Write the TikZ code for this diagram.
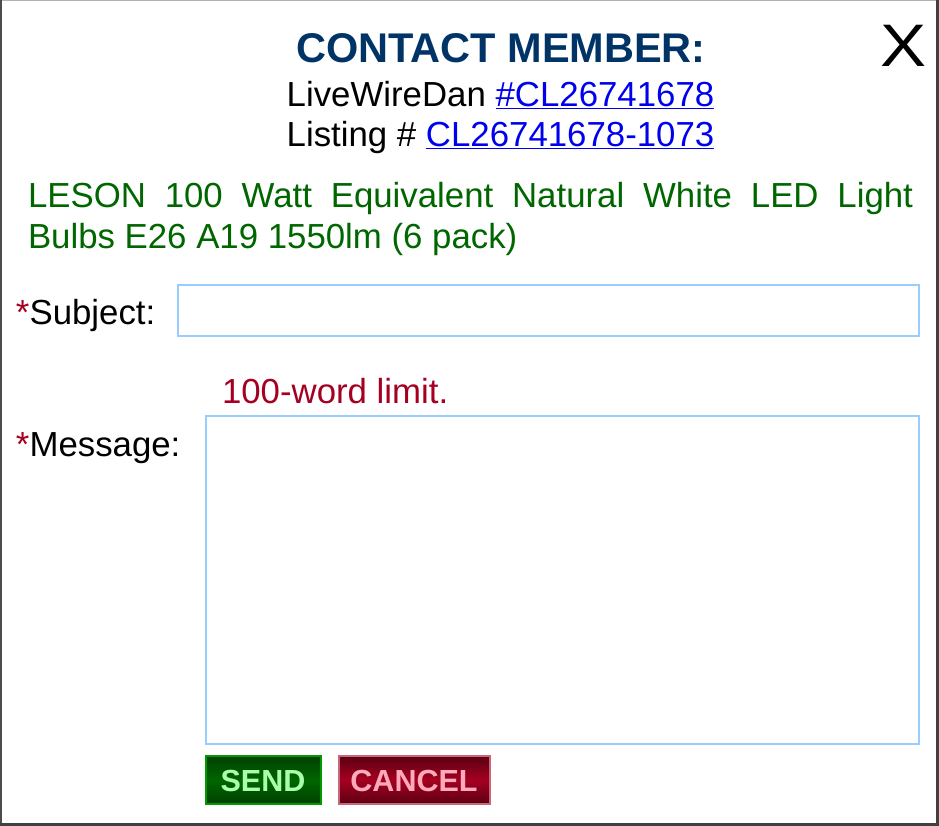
\documentclass[tikz,border=0pt]{standalone}
\usepackage{fontspec}
\setmainfont{Liberation Sans}
\definecolor{titleblue}{HTML}{003366}
\definecolor{linkblue}{HTML}{0000EE}
\definecolor{prodgreen}{HTML}{006600}
\definecolor{reqred}{HTML}{A50021}
\definecolor{boxblue}{HTML}{99CCFF}
\definecolor{sendtxt}{HTML}{AAFFAA}
\definecolor{canceltxt}{HTML}{FFAABB}
\begin{document}
\begin{tikzpicture}[x=1pt,y=-1pt,
  txt/.style={inner sep=0pt,outer sep=0pt,anchor=base west,font=\fontsize{34.8}{40}\selectfont},
  field/.style={draw=boxblue,line width=1.2pt,inner sep=0pt},
  btn/.style={inner sep=0pt,line width=1.2pt,font=\fontsize{30.5}{35}\selectfont\bfseries}]
\useasboundingbox (0,0) rectangle (939,826);
\fill[white] (0,0) rectangle (939,826);
% frame
\draw[line width=1pt,gray!60] (0,0.5) -- (939,0.5);
\draw[line width=2pt,black!70] (1,0) -- (1,826);
\draw[line width=3pt,black!75] (937.5,0) -- (937.5,826);
\draw[line width=3pt,black!75] (0,824.5) -- (939,824.5);
% title
\node[txt,anchor=base,font=\fontsize{41.5}{48}\selectfont\bfseries,text=titleblue] (title) at (501,63) {CONTACT MEMBER:};
\node[txt,anchor=base,font=\fontsize{60}{68}\selectfont] (close) at (903,67) {\scalebox{1.15}[1]{X}};
\node[txt,anchor=base] (member) at (500.5,106.5) {LiveWireDan \textcolor{linkblue}{\underline{\#CL26741678}}};
\node[txt,anchor=base] (listing) at (500.5,146.5) {Listing \# \textcolor{linkblue}{\underline{CL26741678-1073}}};
% product
\node[txt,text=prodgreen] (prod1) at (28,207.5) {\makebox[885pt][s]{LESON 100 Watt Equivalent Natural White LED Light}};
\node[txt,text=prodgreen] (prod2) at (28,248) {Bulbs E26 A19 1550lm (6 pack)};
% subject
\node[txt] (sublbl) at (16,324) {\textcolor{reqred}{*}Subject:};
\draw[field] (178,285) rectangle (919,336);
\node[inner sep=0pt] (subbox) at (548.5,310.5) {};
% message
\node[txt,text=reqred] (limit) at (222,403.5) {100-word limit.};
\node[txt] (msglbl) at (16,456) {\textcolor{reqred}{*}Message:};
\draw[field] (206,416) rectangle (919,744);
\node[inner sep=0pt] (msgbox) at (562.5,580) {};
% buttons
\shade[top color=green!25!black,bottom color=green!25!black,middle color=prodgreen] (206,756) rectangle (321,804);
\draw[line width=1.2pt,green!60!black] (206,756) rectangle (321,804);
\node[btn,text=sendtxt] (send) at (263,781) {SEND};
\shade[top color=reqred!55!black,bottom color=reqred!55!black,middle color=reqred] (339,756) rectangle (490,804);
\draw[line width=1.2pt,reqred!60!white] (339,756) rectangle (490,804);
\node[btn,text=canceltxt] (cancel) at (414,781) {CANCEL};
\end{tikzpicture}
\end{document}
